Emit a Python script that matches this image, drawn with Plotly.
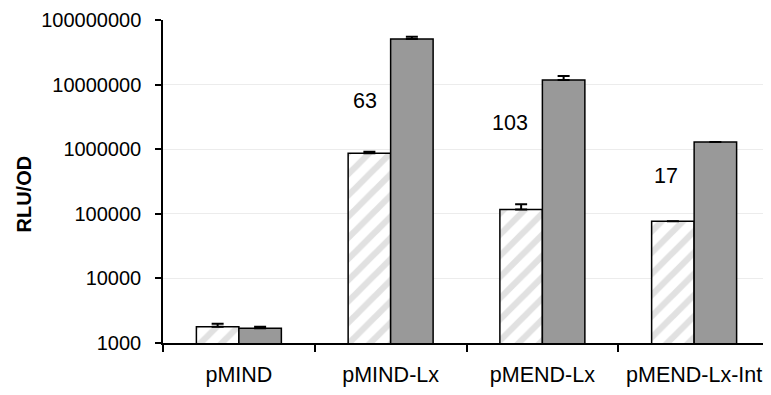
import plotly.graph_objects as go

categories = ["pMIND", "pMIND-Lx", "pMEND-Lx", "pMEND-Lx-Int"]
hatched_values = [1790, 863000, 117000, 76500]
hatched_err = [200, 50000, 24000, float("nan")]
grey_values = [1690, 50800000, 11800000, 1290000]
grey_err = [90, 4000000, 1800000, float("nan")]
ratio_labels = ["63", "103", "17"]
ratio_cats = [1, 2, 3]
ratio_y = [6.75, 6.406, 5.585]
ratio_xshift = [-26, -32, -28]
y_tickvals = [1e3, 1e4, 1e5, 1e6, 1e7, 1e8]
y_ticktext = ["1000", "10000", "100000", "1000000", "10000000", "100000000"]

font = "Liberation Sans, Arial, sans-serif"

W, H = 763, 387
ML, MR, MT, MB = 155, 1, 12, 52

fig = go.Figure()
fig.add_trace(go.Bar(
    x=categories, y=hatched_values,
    marker=dict(color="white", line=dict(color="black", width=1.5),
                pattern=dict(shape="/", fgcolor="#c4c4c4", size=15, solidity=0.42,
                             fillmode="overlay")),
    error_y=dict(type="data", array=hatched_err, arrayminus=[0]*4, symmetric=False,
                 color="black", thickness=2, width=6),
    showlegend=False,
))
fig.add_trace(go.Bar(
    x=categories, y=grey_values,
    marker=dict(color="#999999", line=dict(color="black", width=1.5)),
    error_y=dict(type="data", array=grey_err, arrayminus=[0]*4, symmetric=False,
                 color="black", thickness=2, width=6),
    showlegend=False,
))

for lab, c, yv, xs in zip(ratio_labels, ratio_cats, ratio_y, ratio_xshift):
    fig.add_annotation(x=c, y=yv, text=lab, showarrow=False, xshift=xs,
                       font=dict(family=font, size=21.5, color="black"))

# y-axis title
pw = W - ML - MR
ph = H - MT - MB
fig.add_annotation(xref="paper", yref="paper",
                   x=(15.5 - ML) / pw, y=(H - MB - 186) / ph,
                   text="<b>RLU/OD</b>", textangle=-90, showarrow=False,
                   xanchor="center", yanchor="middle",
                   font=dict(family=font, size=20, color="black"))

fig.add_shape(type="line", xref="paper", yref="y", x0=0, x1=1, y0=8, y1=8,
              line=dict(color="#a0a0a0", width=1.5))

fig.update_layout(
    width=W, height=H,
    margin=dict(l=ML, r=MR, t=MT, b=MB, autoexpand=False),
    paper_bgcolor="white", plot_bgcolor="white",
    barmode="group", bargap=0.44, bargroupgap=0,
    font=dict(family=font, size=20, color="black"),
)
fig.update_xaxes(
    type="category", showline=True, linecolor="black", linewidth=1.5,
    ticks="outside", tickson="boundaries", ticklen=7, tickcolor="black", tickwidth=1.5,
    showgrid=False, tickfont=dict(size=21.5), ticklabelstandoff=11, automargin=False,
)
fig.update_yaxes(
    type="log", range=[3, 8], tickvals=y_tickvals, ticktext=y_ticktext,
    showline=True, linecolor="black", linewidth=1.5,
    ticks="outside", ticklen=6, tickcolor="black", tickwidth=1.5,
    showgrid=True, gridcolor="#ececec", gridwidth=1, zeroline=False,
    tickfont=dict(size=20), ticklabelstandoff=10, automargin=False,
)

fig.write_html("out.html")
